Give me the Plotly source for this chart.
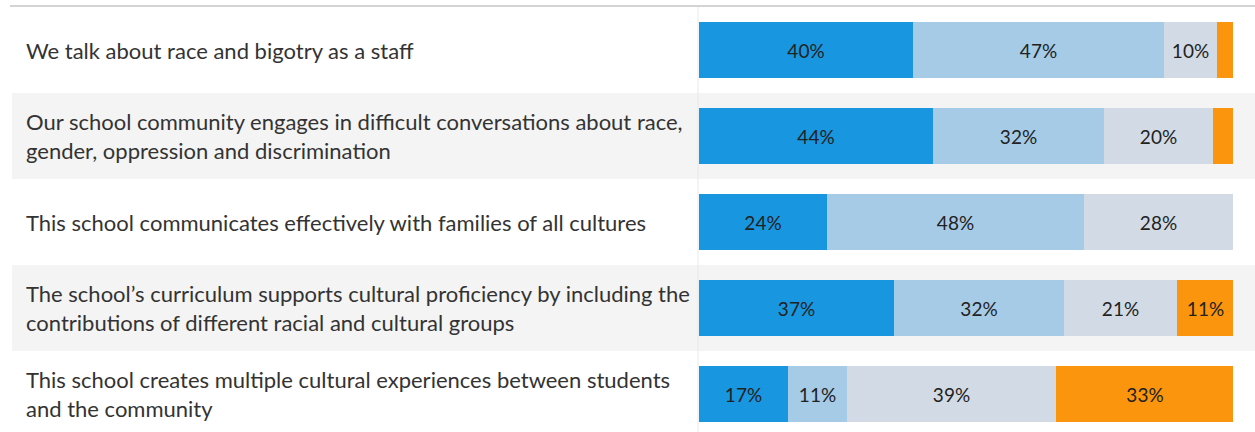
import plotly.graph_objects as go

# statements, top to bottom
statements = [
    "We talk about race and bigotry as a staff",
    "Our school community engages in difficult conversations about race,<br>gender, oppression and discrimination",
    "This school communicates effectively with families of all cultures",
    "The school\u2019s curriculum supports cultural proficiency by including the<br>contributions of different racial and cultural groups",
    "This school creates multiple cultural experiences between students<br>and the community",
]

# response shares (%) per statement
strongly_agree = [40, 43.8, 24, 36.6, 16.6]
agree = [47, 32.0, 48.1, 31.8, 11.2]
disagree = [10, 20.4, 27.9, 21.1, 39]
strongly_disagree = [3, 3.8, 0, 10.6, 33.3]

series = [
    ("Strongly agree", strongly_agree, "#1897e0"),
    ("Agree", agree, "#a5cbe7"),
    ("Disagree", disagree, "#d2dbe5"),
    ("Strongly disagree", strongly_disagree, "#fa950d"),
]

W, H = 1255, 432
rows = list(range(len(statements)))
row_px = 86
top_px = 7

fig = go.Figure()

for name, vals, color in series:
    fig.add_trace(go.Bar(
        y=rows, x=vals, name=name, orientation="h",
        marker=dict(color=color, line=dict(width=0)),
        width=0.65,
        text=[f"{round(v)}%" if v >= 5 else "" for v in vals],
        textposition="inside", insidetextanchor="middle", textangle=0,
        constraintext="none",
        textfont=dict(family="Lato, Noto Sans, sans-serif", size=19, color="#222222"),
        hoverinfo="skip",
    ))

# alternating row bands
shapes = []
for i in rows:
    if i % 2 == 1:
        shapes.append(dict(type="rect", xref="paper", yref="y",
                           x0=12 / W, x1=1, y0=i - 0.5, y1=i + 0.5,
                           fillcolor="#f4f4f4", line=dict(width=0), layer="below"))
# top rule and divider
shapes.append(dict(type="line", xref="paper", yref="paper",
                   x0=10 / W, x1=1, y0=1 - 6 / H, y1=1 - 6 / H,
                   line=dict(color="#d4d4d4", width=2)))
shapes.append(dict(type="line", xref="paper", yref="paper",
                   x0=698 / W, x1=698 / W, y0=0, y1=1 - 7 / H,
                   line=dict(color="#e8e8e8", width=1), layer="below"))

annotations = [
    dict(text=s, x=24 / W, y=i, xref="paper", yref="y", xanchor="left",
         yanchor="middle", align="left", showarrow=False,
         font=dict(family="Lato, Noto Sans, sans-serif", size=22, color="#333333"))
    for i, s in enumerate(statements)
]

y_top = -0.5 - top_px / row_px
y_bot = y_top + H / row_px

fig.update_layout(
    width=W, height=H,
    margin=dict(l=0, r=0, t=0, b=0),
    barmode="stack", bargap=0,
    showlegend=False,
    paper_bgcolor="white", plot_bgcolor="rgba(0,0,0,0)",
    xaxis=dict(domain=[699 / W, 1233 / W], range=[0, 100], visible=False, fixedrange=True),
    yaxis=dict(range=[y_bot, y_top], visible=False, fixedrange=True),
    shapes=shapes,
    annotations=annotations,
)

# drop the default page margin so the figure sits at the window corner
fig.write_html("out.html", post_script="document.body.style.margin='0';",
               config={"displayModeBar": False})
